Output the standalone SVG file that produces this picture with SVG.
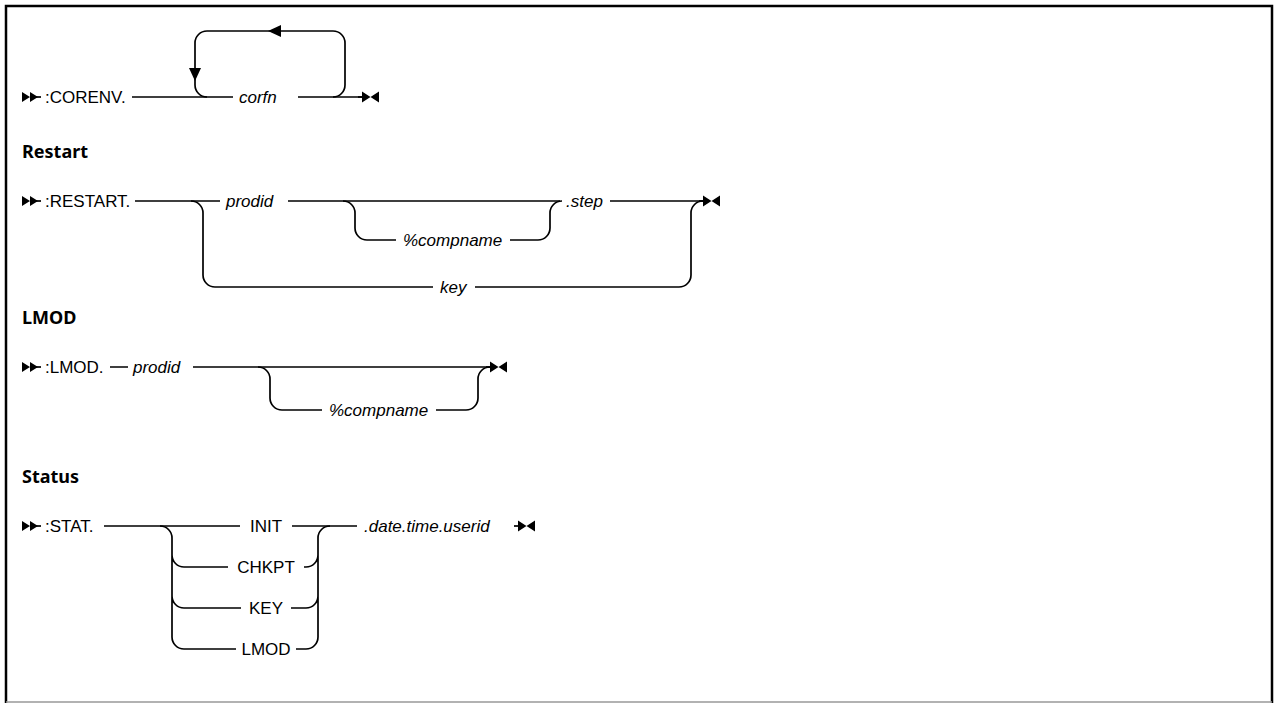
<svg xmlns="http://www.w3.org/2000/svg" width="1274" height="703" viewBox="0 0 1274 703">
<style>
.ln{fill:none;stroke:#000;stroke-width:1.7}
.mk{fill:#000;stroke:none}
.t{font-family:"Liberation Sans",Arial,sans-serif;font-size:17px;fill:#000}
.i{font-style:italic}
.h{font-family:"Noto Sans","Liberation Sans",sans-serif;font-weight:700;font-size:18px;fill:#000}
</style>
<defs>
<g id="start"><path class="mk" d="M0 -5 L8 0 L0 5 Z M8 -5 L16 0 L8 5 Z"/><path class="ln" d="M14 0 H19"/></g>
<g id="end"><path class="ln" d="M-4 0 H2"/><path class="mk" d="M0 -5.5 L8.5 0 L0 5.5 Z M17 -5.5 L8.5 0 L17 5.5 Z"/></g>
</defs>
<rect width="1274" height="703" fill="#fff"/>
<path d="M6 703 V6 H1272 V703" fill="none" stroke="#000" stroke-width="2.5"/>
<line x1="6" y1="702" x2="1272" y2="702" stroke="#999" stroke-width="1.5"/>

<g id="corenv">
<use href="#start" x="22" y="97"/>
<text class="t" x="45" y="103">:CORENV.</text>
<text class="t i" x="239" y="103">corfn</text>
</g>
<g id="restart">
<text class="h" x="22" y="158">Restart</text>
<use href="#start" x="22" y="201"/>
<text class="t" x="45" y="207">:RESTART.</text>
<text class="t i" x="226" y="207">prodid</text>
<text class="t i" x="403" y="246">%compname</text>
<text class="t i" x="566" y="207">.step</text>
<text class="t i" x="440" y="293">key</text>
</g>
<g id="lmod">
<text class="h" x="22" y="324">LMOD</text>
<use href="#start" x="22" y="367"/>
<text class="t" x="45" y="373">:LMOD.</text>
<text class="t i" x="133" y="373">prodid</text>
<text class="t i" x="329" y="416">%compname</text>
</g>
<g id="status">
<text class="h" x="22" y="483">Status</text>
<use href="#start" x="22" y="526"/>
<text class="t" x="45" y="532">:STAT.</text>
<text class="t" x="266" y="532" text-anchor="middle">INIT</text>
<text class="t" x="266" y="573" text-anchor="middle">CHKPT</text>
<text class="t" x="266" y="614" text-anchor="middle">KEY</text>
<text class="t" x="266" y="655" text-anchor="middle">LMOD</text>
<text class="t i" x="364" y="532">.date.time.userid</text>
</g>

<g id="connectors">
<!-- CORENV -->
<path class="ln" d="M132 97 H233 M298 97 H362"/>
<path class="ln" d="M333 97 A12 12 0 0 0 345 85 V43 A12 12 0 0 0 333 31 H207 A12 12 0 0 0 195 43 V85 A12 12 0 0 0 207 97"/>
<path class="mk" d="M189 68 H201 L195 81 Z"/>
<path class="mk" d="M268 31 L281 25 V37 Z"/>
<use href="#end" x="362" y="97"/>
<!-- RESTART -->
<path class="ln" d="M135 201 H220 M288 201 H560 M610 201 H703"/>
<path class="ln" d="M191 201 A12 12 0 0 1 203 213 V275 A12 12 0 0 0 215 287 H433 M475 287 H679 A12 12 0 0 0 691 275 V213 A12 12 0 0 1 703 201"/>
<path class="ln" d="M343 201 A12 12 0 0 1 355 213 V228 A12 12 0 0 0 367 240 H396 M510 240 H538 A12 12 0 0 0 550 228 V213 A12 12 0 0 1 562 201"/>
<use href="#end" x="703" y="201"/>
<!-- LMOD -->
<path class="ln" d="M110 367 H128 M193 367 H490"/>
<path class="ln" d="M258 367 A12 12 0 0 1 270 379 V398 A12 12 0 0 0 282 410 H322 M436 410 H466 A12 12 0 0 0 478 398 V379 A12 12 0 0 1 490 367"/>
<use href="#end" x="490" y="367"/>
<!-- STAT -->
<path class="ln" d="M104 526 H240 M292 526 H357"/>
<path class="ln" d="M160 526 A12 12 0 0 1 172 538 V637 A12 12 0 0 0 184 649 H236 M172 555 A12 12 0 0 0 184 567 H228 M172 596 A12 12 0 0 0 184 608 H241"/>
<path class="ln" d="M296 649 H306 A12 12 0 0 0 318 637 V538 A12 12 0 0 1 330 526 M304 567 H306 A12 12 0 0 0 318 555 M291 608 H306 A12 12 0 0 0 318 596"/>
<use href="#end" x="518" y="526"/>
</g>
</svg>
